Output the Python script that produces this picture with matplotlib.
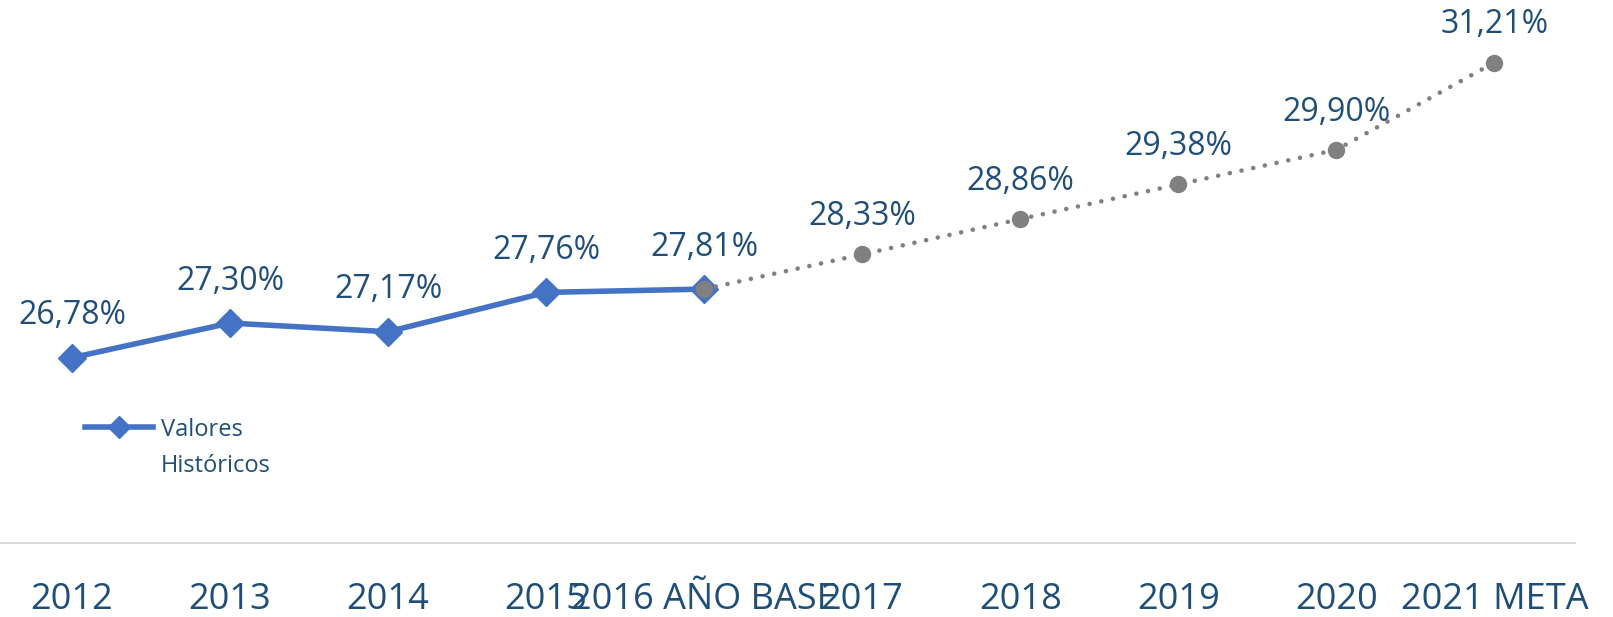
import matplotlib.pyplot as plt
from matplotlib.lines import Line2D

plt.rcParams['font.family'] = ['Open Sans', 'DejaVu Sans']

# data
years = ['2012', '2013', '2014', '2015', '2016 AÑO BASE', '2017', '2018', '2019', '2020', '2021 META']
historicos = [26.78, 27.30, 27.17, 27.76, 27.81]
proyeccion = [27.81, 28.33, 28.86, 29.38, 29.90, 31.21]
proy_labels = ['28,33%', '28,86%', '29,38%', '29,90%', '31,21%']

azul = '#4472c4'
gris = '#808080'
texto = '#1f4e79'

fig = plt.figure(figsize=(16.13, 6.17), dpi=100)
ax = fig.add_axes([0, 0.12, 1575 / 1613, 0.864])

x_hist = list(range(len(historicos)))
x_proy = list(range(len(historicos) - 1, len(years)))

ax.plot(x_hist, historicos, color=azul, lw=4, marker='D', markersize=14.5,
        solid_capstyle='round', zorder=3)
ax.plot(x_proy, proyeccion, color=gris, lw=3.3, linestyle=(0, (0.01, 2.6)),
        dash_capstyle='round', marker='o', markersize=11.5, zorder=4)

# data labels
for i, v in zip(x_hist, historicos):
    ax.annotate(f'{v:.2f}%'.replace('.', ','), (i, v), xytext=(0, 24),
                textcoords='offset points', ha='center', va='baseline',
                fontsize=23, color=texto)
for i, v, t in zip(x_proy[1:], proyeccion[1:], proy_labels):
    ax.annotate(t, (i, v), xytext=(0, 21), textcoords='offset points',
                ha='center', va='baseline', fontsize=23, color=texto)

ax.set_xlim(-0.455, 9.51)
ax.set_ylim(24, 32)
ax.set_xticks(range(len(years)))
ax.set_xticklabels(years, fontsize=26, color=texto)
ax.tick_params(axis='x', length=0, pad=28)
ax.set_yticks([])
for s in ['top', 'left', 'right']:
    ax.spines[s].set_visible(False)
ax.spines['bottom'].set_color('#d9d9d9')
ax.spines['bottom'].set_linewidth(1.5)

# legend (second series entry removed, like in the original)
h1 = Line2D([], [], color=azul, lw=4, marker='D', markersize=11)
h2 = Line2D([], [], color='none')
leg = ax.legend([h1, h2], ['Valores', 'Históricos'], loc='upper left',
                bbox_to_anchor=(85 / 1575, 0.235), frameon=False,
                fontsize=17, handlelength=2.9, handletextpad=0.3,
                labelspacing=0.52, borderpad=0, borderaxespad=0)
for t in leg.get_texts():
    t.set_color(texto)

fig.savefig('out.png', dpi=100)
